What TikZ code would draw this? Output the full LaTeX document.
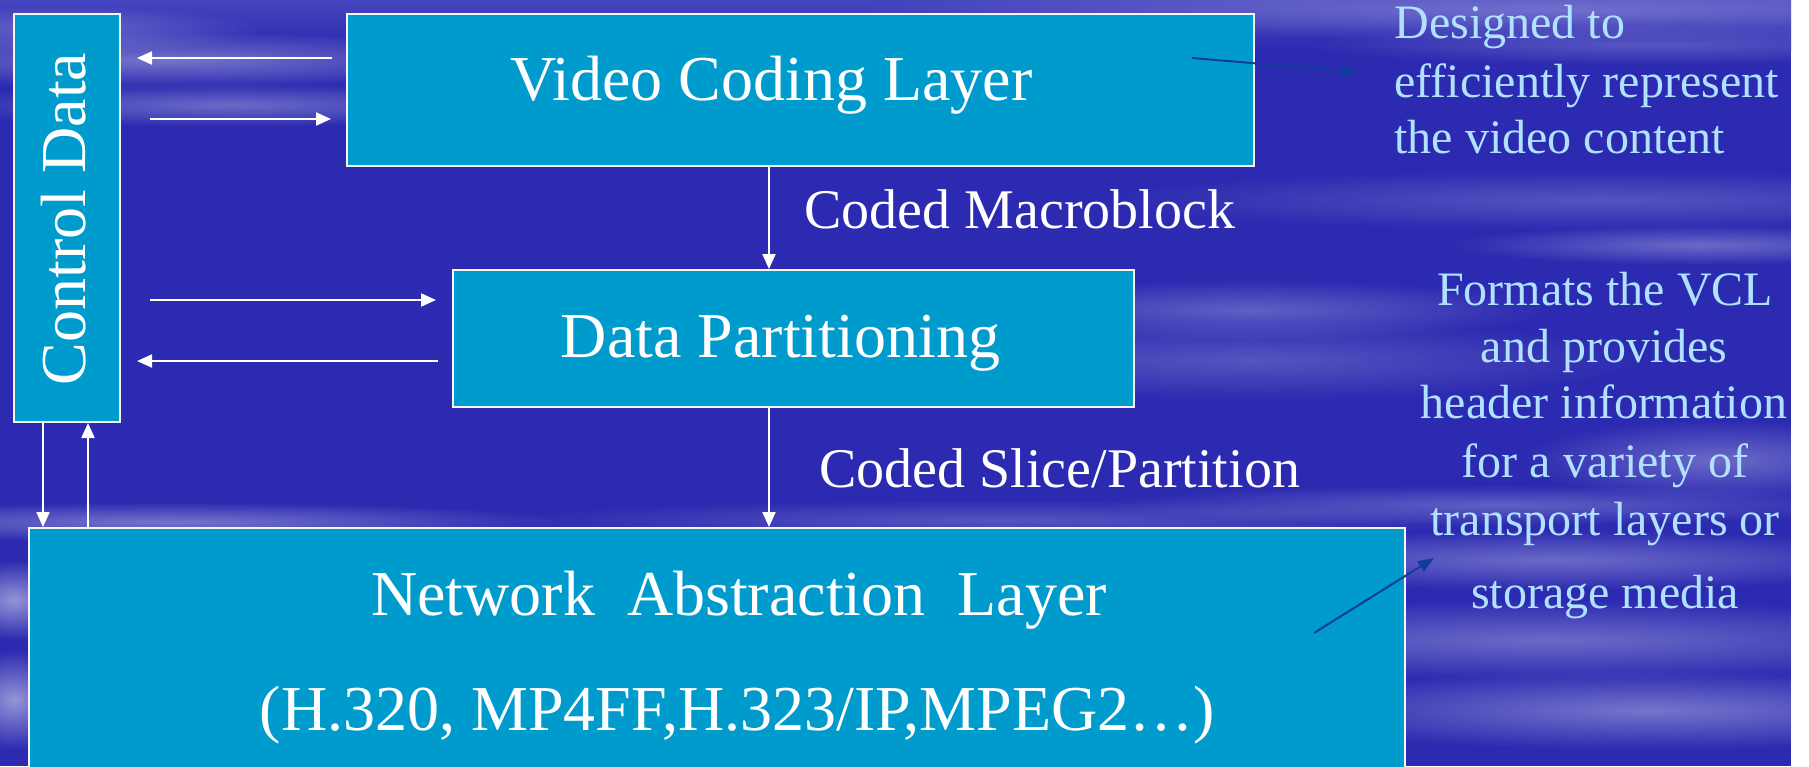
\documentclass[tikz,border=0pt]{standalone}
\usepackage{fontspec}
\setmainfont{Liberation Serif}
\usetikzlibrary{arrows.meta,fadings}
\definecolor{bgblue}{HTML}{2C2AB0}
\definecolor{bgtop}{HTML}{4644BE}
\definecolor{boxblue}{HTML}{009BCD}
\definecolor{noteblue}{HTML}{B0E2FF}
\definecolor{navy}{HTML}{123C9C}
\tikzfading[name=softedge, inner color=transparent!0, outer color=transparent!100]
\tikzset{
  box/.style={draw=white!92!gray, line width=1pt, fill=boxblue, inner sep=0pt, anchor=north west},
  title/.style={text=white, font=\fontsize{32}{38}\selectfont, anchor=base, inner sep=0pt},
  flowlabel/.style={text=white, font=\fontsize{28}{34}\selectfont, anchor=base west, inner sep=0pt},
  note/.style={text=noteblue, font=\fontsize{24}{29}\selectfont, anchor=base, inner sep=0pt},
  warrow/.style={draw=white, line width=1pt, -{Triangle[length=7.5pt,width=6.5pt]}},
  narrow/.style={draw=navy, line width=1pt, -{Triangle[length=8pt,width=6pt]}},
  streak/.style={fill=white, path fading=softedge, opacity=#1},
}
\begin{document}
\begin{tikzpicture}[x=0.5pt,y=-0.5pt]
\useasboundingbox (0,0) rectangle (1809,766);
\clip (0,0) rectangle (1809,766);
% background
\fill[white] (0,0) rectangle (1809,766);
\fill[bgblue] (0,0) rectangle (1791,766);
\shade[top color=bgtop, bottom color=bgblue] (0,0) rectangle (1791,50);
\begin{scope}
\clip (0,0) rectangle (1791,766);
\fill[streak=0.35] (170,60) ellipse (360 and 28);
\fill[streak=0.30] (230,105) ellipse (300 and 22);
\fill[streak=0.25] (60,30) ellipse (200 and 24);
\fill[streak=0.25] (1550,10) ellipse (700 and 30);
\fill[streak=0.20] (1650,45) ellipse (350 and 20);
\fill[streak=0.20] (1600,200) ellipse (500 and 30);
\fill[streak=0.30] (1700,245) ellipse (250 and 20);
\fill[streak=0.25] (1250,310) ellipse (300 and 30);
\fill[streak=0.20] (1250,360) ellipse (400 and 40);
\fill[streak=0.30] (1720,460) ellipse (200 and 40);
\fill[streak=0.25] (1500,505) ellipse (400 and 20);
\fill[streak=0.30] (1550,560) ellipse (400 and 30);
\fill[streak=0.30] (1550,640) ellipse (500 and 40);
\fill[streak=0.35] (1650,710) ellipse (400 and 40);
\fill[streak=0.35] (170,522) ellipse (400 and 20);
\fill[streak=0.50] (14,600) ellipse (60 and 40);
\fill[streak=0.50] (14,700) ellipse (60 and 50);
\fill[streak=0.20] (1000,520) ellipse (500 and 20);
\end{scope}
% boxes
\node[box, minimum width=53pt, minimum height=204pt] (ctrl) at (13,13) {};
\node[box, minimum width=453.5pt, minimum height=76pt] (vcl) at (346,13) {};
\node[box, minimum width=340.5pt, minimum height=68.5pt] (dp) at (452,269) {};
\node[box, minimum width=688pt, minimum height=140pt] (nal) at (28,527) {};
% box texts
\node[title, rotate=90] (ctrlt) at (85,219) {Control Data};
\node[title] (vclt) at (771.5,100) {Video Coding Layer};
\node[title] (dpt) at (780.5,357) {Data Partitioning};
\node[title] (nalt) at (739,615) {Network\ \ Abstraction\ \ Layer};
\node[title] (nals) at (737.5,730) {(H.320, MP4FF,H.323/IP,MPEG2…)};
% flow labels
\node[flowlabel] (cm) at (804,228) {Coded Macroblock};
\node[flowlabel] (cs) at (819,487) {Coded Slice/Partition};
% notes
\node[note, anchor=base west] (d1) at (1394,38) {Designed to};
\node[note, anchor=base west] (d2) at (1394,97) {efficiently represent};
\node[note, anchor=base west] (d3) at (1394,153) {the video content};
\node[note] (f1) at (1605,305) {Formats the VCL};
\node[note] (f2) at (1604,362) {and provides};
\node[note] (f3) at (1604,418) {header information};
\node[note] (f4) at (1605,477) {for a variety of};
\node[note] (f5) at (1605,535) {transport layers or};
\node[note] (f6) at (1605,608) {storage media};
% white connectors
\coordinate (y1) at (0,58);
\coordinate (y2) at (0,119);
\coordinate (y3) at (0,300);
\coordinate (y4) at (0,361);
\draw[warrow, shorten <=7pt, shorten >=8pt] (vcl.west |- y1) -- (ctrl.east |- y1);
\draw[warrow, shorten <=14.5pt, shorten >=7.5pt] (ctrl.east |- y2) -- (vcl.west |- y2);
\draw[warrow, shorten <=14.5pt, shorten >=8pt] (ctrl.east |- y3) -- (dp.west |- y3);
\draw[warrow, shorten <=7pt, shorten >=8pt] (dp.west |- y4) -- (ctrl.east |- y4);
\coordinate (xc) at (769,0);
\coordinate (xd) at (43,0);
\coordinate (xu) at (88,0);
\draw[warrow] (vcl.south -| xc) -- (dp.north -| xc);
\draw[warrow] (dp.south -| xc) -- (nal.north -| xc);
\draw[warrow] (ctrl.south -| xd) -- (nal.north -| xd);
\draw[warrow] (nal.north -| xu) -- (ctrl.south -| xu);
% navy pointers
\coordinate (n1s) at (1192,58);
\coordinate (n1e) at (1358,72);
\coordinate (n2s) at (1314,633);
\coordinate (n2e) at (1434,558);
\draw[narrow] (n1s) -- (n1e);
\draw[narrow] (n2s) -- (n2e);
\end{tikzpicture}
\end{document}
